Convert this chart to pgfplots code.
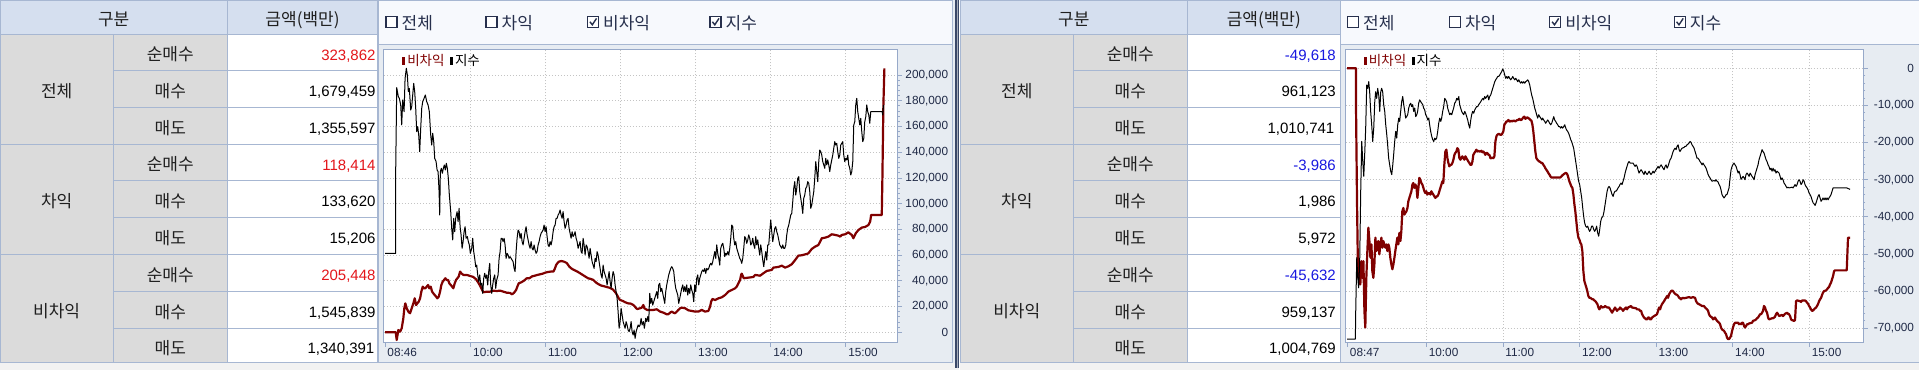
\documentclass[border=0pt]{standalone}
\usepackage{pgfplots}
\pgfplotsset{compat=1.18}
\usepackage{fontspec}
\setmainfont{Liberation Sans}
\newfontfamily\kr{Noto Sans CJK KR}
\newcommand\fs[1]{\fontsize{#1bp}{#1bp}\selectfont}
\definecolor{hdrblue}{HTML}{D5DFEF}
\definecolor{cellgray}{HTML}{DBDBDB}
\definecolor{gridc}{HTML}{A7B7D2}
\definecolor{barbg}{HTML}{F7F9FD}
\definecolor{chartbg}{HTML}{E7ECF2}
\definecolor{framec}{HTML}{97A9C9}
\definecolor{navy}{HTML}{27304D}
\definecolor{ticktext}{HTML}{1F2946}
\definecolor{redval}{HTML}{E3161B}
\definecolor{blueval}{HTML}{1818E0}
\definecolor{maroon}{HTML}{800000}
\definecolor{sepc}{HTML}{3A4868}
\definecolor{dotgray}{HTML}{C4C4C4}
\definecolor{bottomc}{HTML}{F2F2F2}

% table structure: #1 left, #2 col2, #3 col3, #4 right
\newcommand\tablegrid[4]{%
  \fill[hdrblue] (#1,335.7) rectangle (#4,370);
  \fill[cellgray] (#1,7.3) rectangle (#3,335.7);
  \fill[white] (#3,7.3) rectangle (#4,335.7);
  \draw[gridc,line width=1bp]
    (#1,369.5) -- (#4,369.5)
    (#1,335.7) -- (#4,335.7)
    (#1,225.7) -- (#4,225.7)
    (#1,115.7) -- (#4,115.7)
    (#1,7.3) -- (#4,7.3)
    (#2,299.7) -- (#4,299.7) (#2,262.7) -- (#4,262.7)
    (#2,189.7) -- (#4,189.7) (#2,152.7) -- (#4,152.7)
    (#2,79) -- (#4,79) (#2,41.7) -- (#4,41.7)
    ({#1+0.5},7.3) -- ({#1+0.5},370)
    (#2,7.3) -- (#2,335.7)
    (#3,7.3) -- (#3,370)
    (#4,7.3) -- (#4,370);
  \begin{scope}[every node/.style={font=\kr\fs{17}, anchor=base, inner sep=0pt, text=black!88}]
  \node at ({(#1+#3)/2},344.4) {구분};
  \node at ({(#3+#4)/2},344.4) {금액(백만)};
  \node at ({(#1+#2)/2},272.2) {전체};
  \node at ({(#1+#2)/2},162.2) {차익};
  \node at ({(#1+#2)/2},52.8) {비차익};
  \node at ({(#2+#3)/2},309.2) {순매수};
  \node at ({(#2+#3)/2},272.7) {매수};
  \node at ({(#2+#3)/2},235.7) {매도};
  \node at ({(#2+#3)/2},199.2) {순매수};
  \node at ({(#2+#3)/2},162.7) {매수};
  \node at ({(#2+#3)/2},125.7) {매도};
  \node at ({(#2+#3)/2},88.9) {순매수};
  \node at ({(#2+#3)/2},51.9) {매수};
  \node at ({(#2+#3)/2},16.0) {매도};
  \end{scope}
}
\newcommand\val[4]{\node[anchor=base east, inner sep=0pt, font=\fs{15}, text=#3] at (#1,#2) {#4};}

% chart region: #1 left, #2 right
\newcommand\chartregion[2]{%
  \fill[chartbg] (#1,7.3) rectangle (#2,325.7);
  \fill[barbg] (#1,325.7) rectangle (#2,370);
  \draw[gridc,line width=1bp] (#1,325.7) -- (#2,325.7) (#1,369.5) -- (#2,369.5) (#1,7.3) -- (#2,7.3);
}
\newcommand\cbox[2]{%
  \draw[navy, line width=1.1bp, fill=white] (#1,342.3) rectangle ++(11,11);
  \node[anchor=base west, inner sep=0pt, font=\kr\fs{17}, text=navy] at ({#1+15.5},340.2) {#2};
}
\newcommand\cboxc[2]{%
  \cbox{#1}{#2}
  \draw[navy, line width=1.4bp] ({#1+2.4},348.2) -- ({#1+4.8},345.2) -- ({#1+9},351.6);
}
\newcommand\chartlegend[1]{%
  \node[anchor=base west, inner sep=0pt] at ({#1+17.8},305.5) {\textcolor{maroon}{\rule{3bp}{7.5bp}}};
  \node[anchor=base west, inner sep=0pt, font=\kr\fs{13.5}, text=maroon] at ({#1+23.2},305) {비차익};
  \node[anchor=base west, inner sep=0pt] at ({#1+66.1},305.5) {\textcolor{black}{\rule{3bp}{7.5bp}}};
  \node[anchor=base west, inner sep=0pt, font=\kr\fs{13.5}, text=black] at ({#1+70.9},305) {지수};
}

\pgfplotsset{
  mychart/.style={
    scale only axis, height=293bp, anchor=south west,
    axis background/.style={fill=white},
    axis line style={framec, line width=1bp},
    tick align=outside,
    xtick pos=left, ytick pos=right, yticklabel pos=right,
    major tick length=4.5bp, minor tick length=2bp,
    every tick/.append style={framec, line width=0.8bp},
    minor y tick num=4,
    xmajorgrids, ymajorgrids,
    major grid style={dotgray, line width=0.8bp, dash pattern=on 0.8bp off 2.2bp},
    scaled y ticks=false, scaled x ticks=false,
    xticklabel style={font=\fs{11.8}, text=ticktext, anchor=north west, inner sep=0pt, xshift=2.3bp, yshift=-1.5bp},
    yticklabel style={font=\fs{11.8}, text=ticktext, anchor=east, inner sep=0pt, xshift=46.3bp},
    extra x tick style={grid=none},
    clip=true,
    redline/.style={maroon, line width=2.2bp, line join=round},
    blackline/.style={black, line width=1bp, line join=round},
  }
}

\begin{document}
\begin{tikzpicture}[x=1bp,y=1bp]
\path[use as bounding box] (0,0) rectangle (1919,370);
\fill[white] (0,0) rectangle (1919,370);
\fill[bottomc] (0,0) rectangle (1919,7.3);

% ---------- panel 1 ----------
\tablegrid{0}{113.3}{227.3}{377.7}
\val{375.7}{309.7}{redval}{323,862}
\val{375.7}{273.2}{black}{1,679,459}
\val{375.7}{236.2}{black}{1,355,597}
\val{375.7}{199.7}{redval}{118,414}
\val{375.7}{163.2}{black}{133,620}
\val{375.7}{126.2}{black}{15,206}
\val{375.7}{89.4}{redval}{205,448}
\val{375.7}{52.4}{black}{1,545,839}
\val{374.5}{16.5}{black}{1,340,391}

\chartregion{378}{955}
\draw[gridc,line width=1bp] (378,7.3) -- (378,370) (952.3,7.3) -- (952.3,370);
\cbox{386}{전체}
\cbox{486}{차익}
\cboxc{587.5}{비차익}
\cboxc{710}{지수}

\begin{axis}[mychart, at={(383.9bp,27.7bp)}, width=513.6bp,
  xmin=-9.44, xmax=401.4, ymin=-7770, ymax=220000,
  xtick={60,120,180,240,300,360},
  xticklabels={10:00,11:00,12:00,13:00,14:00,15:00},
  extra x ticks={-8.6}, extra x tick labels={08:46},
  ytick={0,20000,40000,60000,80000,100000,120000,140000,160000,180000,200000},
  yticklabels={0,{20,000},{40,000},{60,000},{80,000},{100,000},{120,000},{140,000},{160,000},{180,000},{200,000}},
]
% 비차익
\addplot[redline] coordinates {
(-8.5,0) (0,0) (0.8,-6000) (2.1,1800) (3.5,500) (4.8,3100) (6.1,10900) (6.9,18700) (7.7,22500) (8.8,18700) (10.1,16100) (11.5,14800) (12.8,18700) (14.1,22500) (15.2,26400) (16.3,21200) (17.3,22500) (18.4,23800) (19.5,26400) (20.5,31600) (21.6,35500) (22.7,34200) (23.7,34200) (24.8,35500) (25.9,36800) (26.9,34200) (28.0,35500) (29.1,31600) (30.1,30300) (31.2,29000) (32.3,27700) (33.3,26400) (34.4,27700) (35.5,31600) (36.5,36800) (37.6,39400) (38.7,40700) (39.7,42000) (40.8,40700) (41.9,40700) (42.9,38100) (44.0,36800) (45.1,35500) (46.1,34200) (47.2,38100) (48.3,40700) (49.3,42000) (50.4,43300) (51.5,47200) (52.5,45900) (54.1,44600) (56.8,44600) (59.5,43800) (62.1,43000) (64.3,41200) (66.4,38100) (68.5,34200) (70.1,31100) (72.8,31600) (75.5,31600) (78.1,32400) (80.8,32100) (83.5,32400) (86.1,31600) (88.8,30800) (91.5,30600) (93.1,29500) (94.7,30800) (96.3,32900) (97.3,35500) (98.4,38100) (100.5,38900) (102.7,40200) (104.8,42000) (106.9,42000) (109.1,43500) (111.2,44000) (113.3,44600) (115.5,45100) (117.6,45600) (119.7,46400) (121.9,46900) (124.0,47200) (126.1,47200) (127.2,49200) (128.3,52300) (129.3,53600) (130.4,54900) (132.5,55400) (134.7,54900) (136.8,53900) (138.9,51000) (141.1,49200) (143.2,48200) (145.3,47200) (147.5,45900) (149.6,44600) (151.7,43300) (153.9,42000) (156.0,41500) (158.1,40700) (160.3,38600) (162.4,37300) (164.5,36300) (166.7,35800) (168.8,35200) (170.9,34700) (173.1,33700) (174.1,32900) (175.2,31600) (176.3,30300) (177.3,28500) (178.4,26400) (179.5,25100) (181.6,24400) (183.7,23300) (185.9,22500) (188.0,22300) (190.1,21200) (191.2,20200) (192.3,18700) (193.3,18100) (195.5,18700) (196.8,19200) (198.1,21200) (198.9,18700) (201.1,17400) (203.5,17400) (206.1,17400) (208.8,17900) (211.5,16100) (214.1,15300) (216.8,14000) (218.1,14000) (219.5,15300) (220.8,16100) (222.1,15300) (223.5,14800) (224.8,16100) (226.1,17400) (227.5,18700) (228.8,19200) (231.5,18700) (234.1,17100) (236.8,16600) (239.5,16100) (242.1,16100) (244.8,17400) (247.5,16100) (250.1,16600) (251.5,20000) (252.3,23800) (253.3,25900) (255.5,25100) (258.1,26400) (260.8,27200) (263.5,29000) (266.1,31600) (268.8,32900) (271.5,34200) (272.8,35500) (274.1,38100) (275.5,40700) (276.3,44600) (276.8,45600) (278.4,42000) (282.1,42500) (286.1,43000) (287.5,44600) (291.5,44000) (294.1,45900) (296.8,47700) (300.8,48500) (302.1,50300) (306.1,50800) (308.8,51800) (311.5,50300) (314.1,51300) (316.8,52900) (319.5,56200) (322.1,59600) (324.8,59900) (328.8,60900) (330.1,61400) (332.8,64800) (335.5,66600) (338.1,67900) (339.5,70500) (340.8,73100) (343.5,73600) (346.1,74400) (348.8,76200) (351.5,75700) (354.1,75100) (355.5,74400) (356.8,75700) (359.5,76200) (362.1,77700) (364.8,75700) (366.1,73100) (368.0,77000) (370.1,79500) (372.8,81400) (375.5,81900) (378.1,83400) (379.5,86000) (380.3,91200) (388.8,91200) (389.3,119700) (390.1,176700) (390.9,205200)
};
% 지수
\addplot[blackline] coordinates {
(-8.5,61400) (0,61400) (0,126200) (0.8,190200) (2.1,183200) (2.9,181900) (4.0,176700) (4.8,161200) (5.6,180600) (6.7,171500) (7.5,197400) (8.5,205200) (9.3,200000) (10.1,187000) (10.9,189600) (12.0,172800) (12.8,175400) (13.6,184500) (14.4,193500) (15.2,187000) (16.0,174100) (16.8,156000) (17.6,159900) (18.4,153400) (19.2,140400) (20.0,158600) (20.8,174100) (21.6,179300) (22.7,181900) (23.7,184500) (24.8,179300) (25.9,176700) (26.9,171500) (28.0,153400) (28.8,145600) (29.6,154700) (30.4,148200) (31.2,135200) (32.3,132700) (33.1,126200) (33.9,124900) (34.7,109300) (35.2,91200) (35.7,124900) (36.5,127500) (37.3,123600) (38.1,127500) (38.9,130100) (39.7,126200) (40.5,131400) (41.3,127500) (42.1,119700) (42.9,106700) (44.0,93800) (44.8,80800) (45.6,71800) (46.4,88600) (47.2,78200) (48.0,88600) (49.1,93800) (49.9,86000) (50.7,96400) (51.5,82100) (52.3,75700) (53.1,65300) (53.9,70500) (54.7,78200) (55.5,82100) (56.3,73100) (57.3,74400) (58.1,70500) (58.9,67900) (59.7,61400) (60.8,65300) (61.6,73100) (62.4,62700) (63.2,57500) (64.0,51000) (64.8,52300) (65.6,44600) (66.4,39400) (67.2,44600) (68.0,36800) (68.8,38100) (69.6,30300) (70.4,42000) (71.2,45900) (72.0,42000) (72.8,44600) (73.6,36800) (74.4,47200) (75.2,53600) (76.0,36800) (76.8,30300) (77.6,36800) (78.4,42000) (79.2,44600) (80.0,34200) (80.8,40700) (81.9,44600) (82.7,57500) (83.5,62700) (84.3,73100) (85.1,73100) (85.9,70500) (86.7,73100) (87.5,67900) (88.3,57500) (89.1,61400) (89.9,60100) (90.7,57500) (91.5,58800) (92.3,57500) (93.1,56200) (93.9,54900) (94.7,49700) (95.5,47200) (96.3,62700) (97.1,73100) (97.9,79500) (98.7,78200) (99.5,73100) (100.3,77000) (101.1,70500) (101.9,67900) (102.7,73100) (103.5,78200) (104.3,82100) (105.1,75700) (105.9,71800) (106.7,67900) (107.5,65300) (108.3,70500) (109.1,65300) (109.9,64000) (110.7,67900) (111.5,64000) (112.3,61400) (113.1,62700) (113.9,67900) (114.7,70500) (115.5,74400) (116.3,77000) (117.1,78200) (117.9,79500) (118.7,83400) (119.5,78200) (120.3,82100) (121.1,74400) (121.9,67900) (122.7,66600) (123.5,70500) (124.3,67900) (125.1,71800) (125.9,78200) (126.7,82100) (127.5,83400) (128.3,88600) (129.1,88600) (129.9,91200) (130.7,92500) (131.5,95100) (132.3,91200) (133.1,88600) (133.9,93800) (134.7,86000) (135.5,80800) (136.3,83400) (137.1,87300) (137.9,88600) (138.7,80800) (139.5,77000) (140.3,73100) (141.1,78200) (141.9,74400) (142.7,75700) (143.5,78200) (144.3,73100) (145.1,70500) (145.9,65300) (146.7,67900) (147.5,70500) (148.3,62700) (149.1,61400) (149.9,73100) (150.7,67900) (151.5,60100) (152.3,67900) (153.1,66600) (153.9,62700) (154.7,57500) (155.5,65300) (156.3,60100) (157.1,54900) (157.9,52300) (158.7,49700) (159.5,57500) (160.3,54900) (161.1,62700) (161.9,60100) (162.7,54900) (163.5,49700) (164.3,44600) (165.1,42000) (165.9,52300) (166.7,47200) (167.5,44600) (168.3,42000) (169.1,36800) (169.9,42000) (170.7,47200) (171.5,39400) (172.3,34200) (173.1,42000) (173.9,47200) (174.7,44600) (175.5,36800) (176.3,31600) (177.1,26400) (177.9,16100) (178.7,3100) (179.5,8300) (180.3,18700) (181.1,13500) (181.9,8300) (182.7,5700) (183.5,3100) (184.3,8300) (185.1,5700) (185.9,1800) (186.7,500) (187.5,3100) (188.3,8300) (189.1,500) (189.9,-2100) (190.7,1800) (191.5,-4700) (192.3,500) (193.1,3100) (193.9,5700) (194.7,4400) (195.5,5700) (196.3,10900) (197.1,5700) (198.1,8300) (198.9,3100) (200.0,10900) (200.8,8300) (201.6,12200) (202.4,8300) (203.2,30300) (204.0,22500) (204.8,26400) (205.6,21200) (206.4,23800) (207.2,26400) (208.0,29000) (208.8,31600) (209.6,26400) (210.4,36800) (211.2,38100) (212.0,31600) (212.8,34200) (213.6,30300) (214.4,26400) (215.2,22500) (216.0,31600) (216.8,36800) (217.6,40700) (218.4,44600) (219.2,47200) (220.0,49700) (220.8,51000) (221.6,49700) (222.4,47200) (223.2,39400) (224.0,34200) (224.8,31600) (225.6,29000) (226.4,22500) (227.2,26400) (228.0,30300) (228.8,34200) (229.6,36800) (230.4,31600) (231.2,35500) (232.0,31600) (232.8,36800) (233.6,29000) (234.4,34200) (235.2,30300) (236.0,36800) (236.8,32900) (237.6,30300) (238.4,23800) (239.2,36800) (240.0,31600) (240.8,42000) (241.6,44600) (242.4,36800) (243.2,42000) (244.0,44600) (244.8,47200) (245.6,48500) (246.4,47200) (247.2,49700) (248.0,45900) (248.8,49700) (249.6,48500) (250.4,49700) (251.2,52300) (252.0,53600) (252.8,52300) (253.6,54900) (254.4,58800) (255.2,62700) (256.0,57500) (256.8,67900) (257.6,61400) (258.4,57500) (259.2,52300) (260.0,65300) (260.8,67900) (261.6,69200) (262.4,65300) (263.2,58800) (264.0,61400) (264.8,60100) (265.6,62700) (266.4,60100) (267.2,65300) (268.0,73100) (268.8,83400) (269.6,82100) (270.4,73100) (271.2,67900) (272.0,70500) (272.8,65300) (273.6,62700) (274.4,60100) (275.2,57500) (276.0,56200) (276.8,53600) (277.6,57500) (278.4,65300) (279.2,74400) (280.0,73100) (280.8,69200) (281.6,71800) (282.4,75700) (283.2,73100) (284.0,67900) (284.8,69200) (285.6,73100) (286.4,67900) (287.2,65300) (288.0,74400) (288.8,67900) (289.6,71800) (290.4,65300) (291.2,60100) (292.0,67900) (292.8,62700) (293.6,56200) (294.4,51000) (295.2,57500) (296.0,62700) (296.8,56200) (297.6,67900) (298.4,67900) (299.2,78200) (300.0,87300) (300.8,78200) (301.6,70500) (302.4,75700) (303.2,80800) (304.0,82100) (304.8,78200) (305.6,75700) (306.4,71800) (307.2,67900) (308.0,66600) (308.8,65300) (309.6,67900) (310.4,65300) (311.2,65300) (312.0,67900) (312.8,75700) (313.6,80800) (314.4,83400) (315.2,87300) (316.0,91200) (316.8,92500) (317.6,101600) (318.4,111900) (319.2,117100) (320.0,106700) (320.8,111900) (321.6,119700) (322.4,121000) (323.2,109300) (324.0,104200) (324.8,99000) (325.6,92500) (326.4,104200) (327.2,106700) (328.0,111900) (328.8,113200) (329.6,117100) (330.4,115800) (331.2,109300) (332.0,96400) (332.8,99000) (333.6,104200) (334.4,109300) (335.2,119700) (336.0,132700) (336.8,124900) (337.6,117100) (338.4,132700) (339.2,141700) (340.0,140400) (340.8,137800) (341.6,132700) (342.4,130100) (343.2,127500) (344.0,135200) (344.8,130100) (345.6,134000) (346.4,130100) (347.2,124900) (348.0,130100) (348.8,134000) (349.6,137800) (350.4,143000) (351.2,148200) (352.0,145600) (352.8,146900) (353.6,140400) (354.4,135200) (355.2,137800) (356.0,145600) (356.8,146900) (357.6,148200) (358.4,137800) (359.2,132700) (360.0,135200) (360.8,134000) (361.6,137800) (362.4,130100) (363.2,127500) (364.0,122300) (364.8,124900) (365.6,132700) (366.4,161200) (367.2,163700) (368.0,176700) (368.8,181900) (369.6,171500) (370.4,166300) (371.2,161200) (372.0,166300) (372.8,156000) (373.6,148200) (374.4,150800) (375.2,163700) (376.0,167500) (376.8,176700) (377.6,171500) (378.4,168900) (379.2,162500) (380.0,171500) (389.1,171500) (389.6,168900) (390.2,176700)
};
\end{axis}
\chartlegend{383.9}

% ---------- separator ----------
\fill[chartbg] (952.8,7.3) rectangle (955,370);
\fill[sepc] (955,2) rectangle (959,370);
\draw[sepc!45!white, line width=0.8bp] (957,2) -- (957,370);
\fill[white] (959,0) rectangle (960.3,370);

% ---------- panel 2 ----------
\tablegrid{960.3}{1073.3}{1187.3}{1340.3}
\val{1336}{309.7}{blueval}{-49,618}
\val{1336}{273.2}{black}{961,123}
\val{1334.5}{236.2}{black}{1,010,741}
\val{1336}{199.7}{blueval}{-3,986}
\val{1336}{163.2}{black}{1,986}
\val{1336}{126.2}{black}{5,972}
\val{1336}{89.4}{blueval}{-45,632}
\val{1336}{52.4}{black}{959,137}
\val{1336}{16.5}{black}{1,004,769}

\chartregion{1340.7}{1919}
\draw[gridc,line width=1bp] (1340.7,7.3) -- (1340.7,370);
\cbox{1347.4}{전체}
\cbox{1449.3}{차익}
\cboxc{1549.7}{비차익}
\cboxc{1674.2}{지수}

\begin{axis}[mychart, at={(1345.5bp,27.7bp)}, width=517.8bp,
  xmin=-3.3, xmax=402.3, ymin=-73770, ymax=5120,
  xtick={60,120,180,240,300,360},
  xticklabels={10:00,11:00,12:00,13:00,14:00,15:00},
  extra x ticks={-1.8}, extra x tick labels={08:47},
  ytick={-70000,-60000,-50000,-40000,-30000,-20000,-10000,0},
  yticklabels={{-70,000},{-60,000},{-50,000},{-40,000},{-30,000},{-20,000},{-10,000},0},
]
% 비차익
\addplot[redline] coordinates {
(-2.1,0) (4.9,0) (4.9,-9800) (5.7,-35800) (6.5,-56400) (7.5,-54600) (8.3,-58200) (9.1,-51900) (9.9,-56400) (10.7,-51900) (11.5,-65300) (12.2,-69800) (13.0,-56400) (13.8,-49200) (14.6,-42900) (15.4,-46500) (16.2,-51000) (17.0,-47400) (17.7,-54600) (18.5,-56400) (19.3,-52800) (20.1,-45600) (20.9,-49200) (21.6,-48300) (22.4,-46500) (23.2,-50100) (24.0,-47400) (24.8,-45600) (25.6,-48300) (26.3,-46500) (27.1,-47400) (27.9,-48300) (28.7,-47400) (29.5,-49200) (30.3,-47400) (31.0,-48300) (31.8,-51000) (32.6,-52800) (33.4,-54100) (34.2,-52800) (35.0,-51000) (35.7,-49200) (36.5,-47400) (37.3,-45600) (38.1,-47400) (38.9,-44300) (39.7,-46500) (40.4,-43900) (41.2,-38500) (42.0,-37600) (42.8,-39400) (43.6,-38900) (44.4,-38500) (45.2,-37600) (45.9,-35800) (46.7,-34900) (47.5,-34000) (48.3,-33100) (49.1,-31300) (49.8,-30900) (50.6,-32200) (51.4,-31300) (52.2,-31800) (53.0,-34900) (53.8,-32200) (54.5,-29500) (55.3,-30000) (56.1,-30900) (56.9,-31300) (57.7,-32200) (58.5,-33100) (59.2,-33600) (60.0,-33100) (60.8,-34000) (61.6,-33600) (62.4,-33600) (63.2,-34000) (63.9,-33100) (64.7,-33600) (65.5,-34000) (66.3,-34500) (67.1,-34900) (67.9,-34500) (68.6,-34500) (69.4,-34000) (70.2,-33100) (71.0,-32200) (71.8,-31300) (72.6,-30400) (73.3,-30900) (74.1,-25900) (74.9,-22400) (75.7,-21900) (76.5,-24200) (77.3,-25500) (78.0,-26400) (78.8,-26000) (79.6,-26000) (80.4,-25500) (81.2,-24600) (82.0,-23300) (82.7,-22800) (83.5,-22400) (84.3,-21500) (85.1,-21900) (85.9,-24200) (86.7,-24600) (87.4,-24200) (88.2,-23700) (89.0,-24200) (89.8,-24600) (90.6,-23700) (91.4,-24200) (92.1,-24600) (92.9,-25100) (93.7,-25500) (94.5,-26000) (95.3,-26000) (96.1,-25100) (96.8,-23300) (97.6,-22800) (98.4,-22400) (99.2,-21900) (100.0,-22400) (100.8,-22200) (101.5,-22400) (102.3,-22400) (103.1,-22200) (103.9,-22600) (104.7,-22400) (105.5,-22800) (106.2,-23300) (107.0,-22800) (107.8,-22800) (108.6,-23300) (109.4,-23300) (110.2,-24200) (110.9,-24200) (111.7,-24000) (112.5,-24200) (113.3,-23700) (114.1,-19700) (114.9,-18300) (115.6,-17900) (116.4,-17700) (117.2,-17700) (118.0,-17900) (118.8,-17900) (119.6,-17500) (120.3,-17000) (121.1,-15200) (121.9,-14800) (122.7,-14300) (123.5,-14300) (124.3,-13900) (125.0,-14300) (125.8,-14300) (126.6,-14100) (127.4,-14300) (128.2,-14100) (129.0,-14100) (129.7,-14300) (130.5,-14100) (131.3,-13900) (132.1,-13900) (132.9,-13600) (133.7,-13900) (134.4,-13900) (135.2,-13600) (136.0,-13200) (136.8,-13000) (137.6,-13600) (138.4,-13400) (139.1,-13200) (139.9,-13400) (140.7,-13600) (141.5,-13900) (142.3,-14100) (143.1,-15200) (143.8,-17000) (144.6,-19700) (145.4,-22400) (146.2,-24200) (147.0,-24600) (147.8,-24900) (148.5,-25100) (149.3,-25200) (150.1,-25500) (150.9,-25500) (151.7,-26000) (152.5,-26400) (153.2,-26900) (154.0,-27300) (154.8,-27700) (155.6,-28200) (156.4,-28600) (157.2,-29100) (157.9,-29400) (165.0,-29400) (165.8,-29100) (166.6,-28800) (167.3,-28600) (168.1,-28400) (168.9,-28200) (169.7,-28200) (170.5,-28600) (171.3,-29500) (172.0,-30400) (172.8,-31100) (173.6,-31800) (174.4,-32200) (175.2,-34000) (176.0,-36700) (176.7,-38500) (177.5,-41200) (178.3,-43900) (179.1,-45600) (179.9,-46100) (180.7,-47000) (181.4,-47400) (182.2,-49200) (183.0,-54600) (183.8,-57300) (184.6,-58200) (185.4,-59100) (186.1,-60000) (186.9,-61300) (187.7,-61800) (188.5,-61800) (189.3,-62000) (190.1,-62200) (190.8,-62200) (191.6,-62500) (192.4,-62700) (193.2,-63100) (194.0,-63500) (194.8,-64400) (195.5,-64900) (196.3,-64400) (196.9,-64000) (197.6,-64400) (199.2,-64300) (200.0,-64000) (201.6,-64400) (203.1,-64400) (203.9,-64900) (204.7,-65300) (205.5,-65800) (206.3,-65300) (207.0,-64900) (207.8,-64400) (208.6,-64900) (209.4,-65300) (210.2,-64900) (211.0,-64900) (211.7,-64400) (213.3,-64900) (214.1,-65300) (214.9,-64900) (216.4,-64400) (217.2,-64900) (218.0,-64400) (220.4,-64000) (221.1,-64400) (224.3,-64600) (225.1,-64900) (226.6,-64900) (227.4,-65300) (228.2,-65300) (229.0,-66200) (229.8,-66700) (230.5,-67100) (231.3,-67300) (232.1,-67600) (232.9,-67600) (233.7,-67100) (234.5,-67100) (235.2,-67600) (236.0,-67600) (236.8,-67100) (237.6,-66900) (238.4,-66700) (239.9,-66400) (240.7,-66200) (241.5,-65300) (242.3,-64400) (243.1,-64900) (243.9,-64000) (244.6,-63500) (245.4,-63100) (246.2,-62700) (247.0,-62200) (247.8,-61800) (248.6,-61300) (249.3,-61800) (250.1,-60900) (250.9,-60400) (251.7,-60000) (252.5,-59800) (253.3,-60000) (254.0,-60400) (254.8,-60700) (255.6,-60900) (256.4,-61000) (257.2,-61300) (258.0,-61800) (258.7,-61900) (259.5,-62200) (260.3,-61900) (261.1,-61800) (261.9,-61900) (263.4,-61800) (265.8,-61600) (267.3,-61800) (268.9,-61600) (270.5,-61800) (271.3,-62700) (272.0,-63100) (272.8,-63400) (273.6,-63500) (276.0,-64000) (277.5,-64000) (278.3,-64400) (279.9,-64900) (280.7,-65300) (281.4,-66200) (282.2,-66700) (283.8,-67100) (284.6,-67600) (286.1,-67100) (286.9,-67600) (287.7,-68000) (289.3,-68500) (290.1,-68900) (290.8,-69800) (291.6,-70300) (292.4,-70500) (293.2,-70700) (294.0,-71200) (294.8,-71600) (295.5,-72500) (296.3,-72900) (297.1,-72900) (297.9,-72500) (298.7,-72000) (299.5,-70700) (300.2,-69800) (301.0,-68900) (301.8,-68500) (304.2,-68500) (304.9,-68900) (305.7,-68700) (306.5,-68900) (307.3,-68500) (308.1,-68500) (308.9,-69400) (309.6,-69800) (310.4,-69400) (311.2,-68900) (312.0,-68900) (312.8,-68700) (315.1,-68500) (315.9,-68000) (317.5,-67800) (318.3,-67600) (319.0,-67300) (319.8,-67100) (320.6,-66700) (321.4,-66200) (322.2,-66200) (323.0,-65800) (323.7,-65300) (324.5,-64000) (325.3,-64400) (326.1,-65300) (326.9,-65800) (327.7,-67100) (328.4,-67600) (330.8,-67300) (331.6,-67300) (332.4,-67100) (333.1,-66900) (333.9,-66200) (334.7,-65800) (335.5,-66200) (336.3,-66700) (338.6,-66400) (339.4,-66700) (340.2,-66400) (341.0,-66100) (342.5,-65800) (343.3,-66100) (344.1,-66200) (344.9,-66700) (345.7,-67600) (346.5,-67800) (348.0,-68000) (348.8,-67800) (349.6,-62700) (350.4,-62500) (352.7,-62700) (353.5,-62900) (354.3,-62500) (356.6,-62500) (357.4,-62700) (358.2,-63100) (359.0,-63400) (359.8,-64000) (360.6,-64400) (361.3,-64900) (362.1,-65300) (362.9,-65200) (363.7,-64900) (364.5,-64600) (365.3,-64400) (366.0,-64000) (366.8,-63500) (367.6,-62700) (368.4,-62200) (369.2,-61800) (370.0,-61000) (370.7,-60400) (371.5,-60000) (373.1,-59800) (373.9,-59500) (374.7,-59100) (375.4,-58900) (376.2,-58200) (377.0,-57700) (377.8,-56800) (378.6,-55900) (379.4,-54600) (380.1,-54400) (389.3,-54400) (389.8,-49900) (390.3,-45600) (391.9,-45600)
};
% 지수
\addplot[blackline] coordinates {
(-2.1,-72900) (4.4,-72900) (4.7,-65300) (5.5,-51000) (6.3,-56400) (7.0,-59100) (7.8,-51900) (8.6,-33100) (9.4,-19700) (10.2,-25100) (11.0,-29100) (11.7,-23300) (12.5,-16100) (13.3,-4500) (14.1,-5400) (14.9,-3600) (15.6,-6300) (16.4,-11600) (17.2,-15200) (18.0,-19700) (18.8,-16100) (19.6,-9000) (20.3,-6300) (21.1,-8100) (21.9,-5400) (22.7,-7200) (23.5,-11600) (24.3,-6300) (25.0,-5400) (25.8,-6300) (26.6,-9800) (27.4,-11600) (28.2,-15200) (29.0,-17900) (29.7,-20600) (30.5,-24200) (31.3,-26000) (32.1,-27700) (32.9,-28600) (33.7,-26000) (34.4,-23300) (35.2,-19700) (36.0,-17000) (36.8,-18800) (37.6,-15200) (38.4,-13400) (39.1,-14300) (39.9,-11600) (40.7,-9000) (41.5,-7600) (42.3,-9800) (43.1,-11600) (43.8,-13400) (44.6,-13000) (45.4,-12500) (46.2,-10700) (47.0,-9800) (47.8,-9400) (48.5,-10300) (49.3,-9800) (50.1,-11600) (50.9,-10700) (51.7,-13000) (52.5,-12500) (53.2,-11600) (54.0,-9400) (54.8,-8500) (55.6,-9000) (56.4,-9400) (57.2,-9800) (57.9,-10700) (58.7,-11200) (59.5,-12500) (60.3,-13000) (61.1,-13900) (61.9,-13400) (62.6,-15200) (63.4,-17000) (64.2,-18300) (65.0,-19200) (65.8,-19700) (66.6,-18800) (67.3,-19200) (68.1,-18800) (68.9,-17000) (69.7,-14800) (70.5,-13400) (71.3,-14300) (72.0,-13400) (72.8,-11600) (73.6,-10300) (74.4,-8100) (75.2,-8500) (75.9,-9000) (76.7,-10700) (77.5,-11600) (78.3,-12500) (79.1,-12100) (79.9,-12500) (80.6,-11600) (81.4,-10700) (82.2,-9400) (83.0,-9000) (83.8,-8100) (84.6,-8500) (85.4,-7600) (86.1,-9800) (86.9,-10700) (87.7,-11600) (88.5,-12100) (89.3,-12500) (90.1,-11600) (90.8,-12100) (91.6,-13000) (92.4,-13900) (93.2,-15200) (94.0,-16100) (94.8,-13900) (95.5,-12500) (96.3,-11600) (97.1,-12100) (97.9,-11200) (98.7,-10700) (99.5,-10300) (100.2,-10300) (101.0,-9800) (101.8,-9400) (102.6,-9000) (103.4,-8500) (104.2,-8100) (104.9,-8500) (105.7,-7600) (106.5,-8100) (107.3,-7600) (108.1,-7200) (108.9,-8500) (109.6,-7600) (110.4,-7200) (111.2,-6300) (112.0,-5400) (112.8,-4500) (113.6,-3600) (114.3,-3100) (115.1,-2700) (115.9,-2200) (116.7,-2200) (117.5,-1800) (118.3,-1300) (119.0,-900) (119.8,-200) (120.6,-700) (121.4,-1800) (122.2,-2700) (123.0,-2200) (123.7,-2700) (124.5,-2200) (125.3,-2700) (126.1,-3100) (126.9,-2700) (127.7,-2200) (128.4,-2700) (129.2,-3100) (130.0,-2700) (130.8,-3100) (131.6,-3600) (132.4,-3100) (133.1,-3600) (133.9,-4000) (134.7,-3600) (135.5,-4000) (136.3,-3600) (137.1,-4000) (137.8,-3600) (138.6,-3400) (139.4,-3100) (140.2,-3600) (141.0,-4500) (141.7,-5800) (142.5,-7200) (143.3,-8100) (144.1,-9400) (144.9,-10700) (145.7,-11600) (146.4,-12500) (147.2,-13400) (148.0,-12500) (148.8,-13000) (149.6,-13400) (150.4,-13900) (151.1,-13400) (151.9,-13900) (152.7,-14300) (153.5,-14800) (154.3,-14300) (155.1,-13900) (155.8,-14300) (156.6,-14800) (157.4,-15200) (158.2,-14800) (159.0,-13900) (159.8,-13000) (160.5,-13900) (161.3,-14300) (162.1,-14800) (162.9,-15200) (163.7,-15700) (164.5,-15700) (165.2,-16100) (166.0,-15700) (166.8,-16100) (167.6,-15700) (168.4,-15200) (169.2,-16100) (169.9,-16600) (170.7,-17000) (171.5,-17500) (172.3,-18300) (173.1,-19200) (173.8,-19700) (174.6,-20600) (175.4,-21500) (176.2,-23300) (177.0,-25100) (177.8,-26900) (178.5,-28600) (179.3,-30400) (180.1,-31300) (180.9,-33100) (181.7,-34900) (182.5,-37600) (183.2,-39800) (184.0,-41600) (184.8,-42500) (185.6,-42800) (186.4,-42500) (187.2,-43400) (187.9,-43900) (188.7,-43400) (189.5,-42500) (190.3,-42500) (191.1,-43400) (191.9,-43900) (192.6,-43400) (193.4,-42500) (194.2,-44300) (195.0,-45200) (195.8,-43400) (196.6,-41200) (197.3,-40300) (198.4,-39800) (199.2,-38500) (200.0,-36700) (200.8,-34900) (201.6,-33100) (202.3,-32200) (203.1,-31800) (203.9,-32200) (204.7,-33100) (205.5,-34000) (206.3,-34500) (207.0,-33600) (207.8,-33100) (208.6,-33100) (209.4,-32700) (210.2,-32200) (211.0,-31800) (211.7,-31300) (212.5,-30900) (213.3,-31300) (214.1,-30400) (214.9,-29500) (215.7,-28200) (216.4,-27300) (217.2,-26400) (218.0,-25500) (218.8,-25100) (219.6,-25500) (221.9,-25500) (222.7,-26000) (223.5,-26400) (224.3,-26000) (225.1,-26400) (225.8,-27300) (226.6,-28200) (227.4,-27700) (228.2,-27300) (229.0,-27700) (229.8,-28200) (230.5,-28600) (231.3,-27700) (232.1,-28200) (232.9,-28600) (233.7,-28200) (234.5,-27700) (235.2,-28200) (236.0,-28600) (236.8,-28200) (237.6,-27700) (238.4,-28200) (239.2,-27700) (239.9,-27300) (240.7,-26900) (241.5,-26400) (242.3,-26900) (243.1,-26400) (243.9,-26000) (244.6,-26400) (245.4,-26900) (246.2,-27300) (247.0,-26400) (247.8,-26000) (248.6,-26900) (249.3,-26400) (250.1,-25500) (250.9,-24600) (251.7,-24200) (252.5,-23300) (253.3,-22400) (254.0,-21900) (254.8,-21500) (255.6,-21900) (256.4,-21000) (257.2,-20600) (258.0,-21900) (258.7,-22400) (259.5,-21900) (260.3,-21500) (261.9,-21300) (262.6,-21000) (263.4,-21000) (264.2,-20600) (265.0,-20400) (265.8,-20100) (266.6,-19700) (267.3,-19900) (268.1,-20600) (268.9,-21000) (269.7,-21500) (270.5,-22400) (271.3,-23300) (272.0,-24200) (272.8,-24200) (273.6,-24600) (274.4,-25100) (275.2,-25500) (276.0,-26000) (276.7,-25500) (277.5,-26000) (278.3,-26400) (279.1,-26900) (279.9,-27700) (280.7,-28600) (281.4,-29100) (282.2,-29500) (283.0,-30000) (283.8,-30400) (285.4,-30200) (286.1,-30400) (286.9,-30000) (287.7,-30400) (288.5,-30600) (289.3,-31300) (290.1,-31800) (290.8,-32700) (291.6,-34000) (292.4,-34500) (293.2,-34900) (294.0,-34500) (294.8,-34000) (295.5,-34000) (296.3,-33100) (297.1,-32200) (297.9,-29500) (298.7,-27300) (299.5,-26400) (300.2,-25900) (301.0,-25500) (301.8,-26000) (302.6,-26400) (303.4,-27300) (304.2,-28200) (304.9,-27700) (305.7,-28600) (306.5,-29900) (307.3,-29500) (308.1,-29100) (308.9,-29500) (309.6,-30000) (310.4,-28600) (311.2,-28200) (312.0,-28600) (312.8,-29100) (313.6,-28200) (314.3,-28600) (315.1,-29100) (315.9,-29500) (316.7,-30000) (317.5,-28600) (318.3,-27700) (319.0,-26900) (319.8,-26000) (320.6,-24600) (321.4,-23700) (322.2,-22800) (323.0,-21900) (323.7,-22400) (324.5,-22800) (325.3,-23700) (326.1,-24600) (326.9,-25100) (327.7,-26000) (328.4,-26400) (329.2,-27300) (330.0,-26900) (330.8,-27700) (331.6,-26900) (332.4,-27700) (333.1,-27300) (333.9,-28200) (334.7,-27700) (336.3,-28200) (337.1,-29100) (337.8,-30000) (338.6,-29500) (339.4,-30000) (340.2,-30900) (341.0,-31300) (341.8,-31800) (342.5,-32200) (343.3,-32000) (344.1,-32200) (346.5,-32000) (347.2,-32200) (348.0,-31800) (348.8,-31300) (349.6,-31800) (350.4,-31300) (351.2,-30400) (351.9,-30000) (352.7,-30400) (353.5,-31300) (354.3,-30900) (355.1,-30000) (355.9,-30400) (356.6,-31300) (357.4,-31800) (358.2,-32200) (359.0,-32700) (359.8,-33600) (360.6,-34000) (361.3,-34500) (362.1,-35400) (362.9,-36200) (363.7,-36500) (364.5,-36900) (365.3,-36200) (366.0,-35400) (366.8,-34500) (367.6,-34000) (368.4,-34900) (369.2,-35800) (370.0,-35400) (370.7,-34900) (371.5,-35400) (372.3,-34900) (373.1,-35400) (373.9,-34900) (374.7,-35400) (375.4,-34900) (376.2,-34500) (377.0,-34000) (377.8,-33100) (378.6,-32200) (379.4,-32200) (389.3,-32200) (390.6,-32400) (391.9,-32600)
};
\end{axis}
\chartlegend{1345.5}
\end{tikzpicture}
\end{document}
